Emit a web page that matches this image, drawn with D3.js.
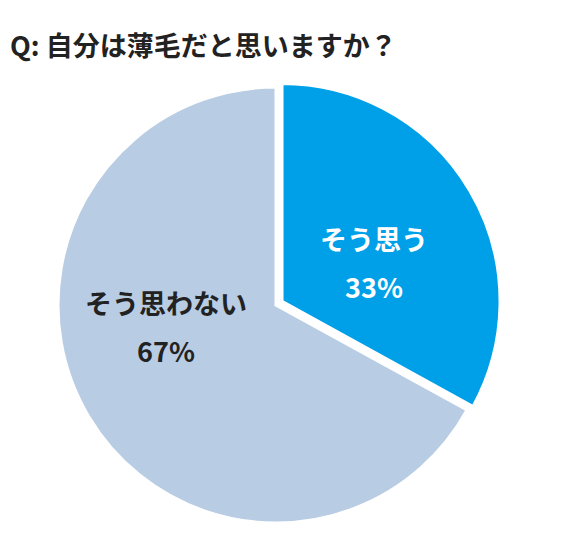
<!DOCTYPE html>
<html><head><meta charset="utf-8">
<script src="https://cdn.jsdelivr.net/npm/d3@7"></script>
<style>body{margin:0;background:#fff}</style></head>
<body><svg id="c" width="580" height="549"></svg>
<script>
const title = "Q: 自分は薄毛だと思いますか？";
const categories = ["そう思う", "そう思わない"];
const values = [33, 67];
const colors = ["#00a0e9", "#b8cce4"];
const svg = d3.select("#c");
const font = "'Noto Sans CJK JP', sans-serif";
svg.append("text").attr("x", 10).attr("y", 56).attr("font-family", font)
  .attr("font-weight", "bold").attr("font-size", 27).attr("fill", "#222").text(title);
const cx = 276, cy = 305, r = 218;
const pie = d3.pie().sort(null)(values);
const arc = d3.arc().innerRadius(0).outerRadius(r);
const g = svg.append("g").attr("transform", `translate(${cx},${cy})`);
const offs = [7, 0];
pie.forEach((d, i) => {
  const a = (d.startAngle + d.endAngle) / 2;
  const dx = Math.sin(a) * offs[i], dy = -Math.cos(a) * offs[i];
  g.append("path").attr("d", arc(d)).attr("fill", colors[i])
    .attr("stroke", "#fff").attr("stroke-width", 3)
    .attr("transform", `translate(${dx},${dy})`);
});
const labels = [{x: 98, y: -55, c: "#fff"}, {x: -110, y: 9, c: "#222"}];
pie.forEach((d, i) => {
  const t = g.append("text").attr("text-anchor", "middle").attr("font-family", font)
    .attr("font-weight", "bold").attr("font-size", 27).attr("fill", labels[i].c);
  t.append("tspan").attr("x", labels[i].x).attr("y", labels[i].y).text(categories[i]);
  t.append("tspan").attr("x", labels[i].x).attr("y", labels[i].y + 48).text(values[i] + "%");
});
</script></body></html>
